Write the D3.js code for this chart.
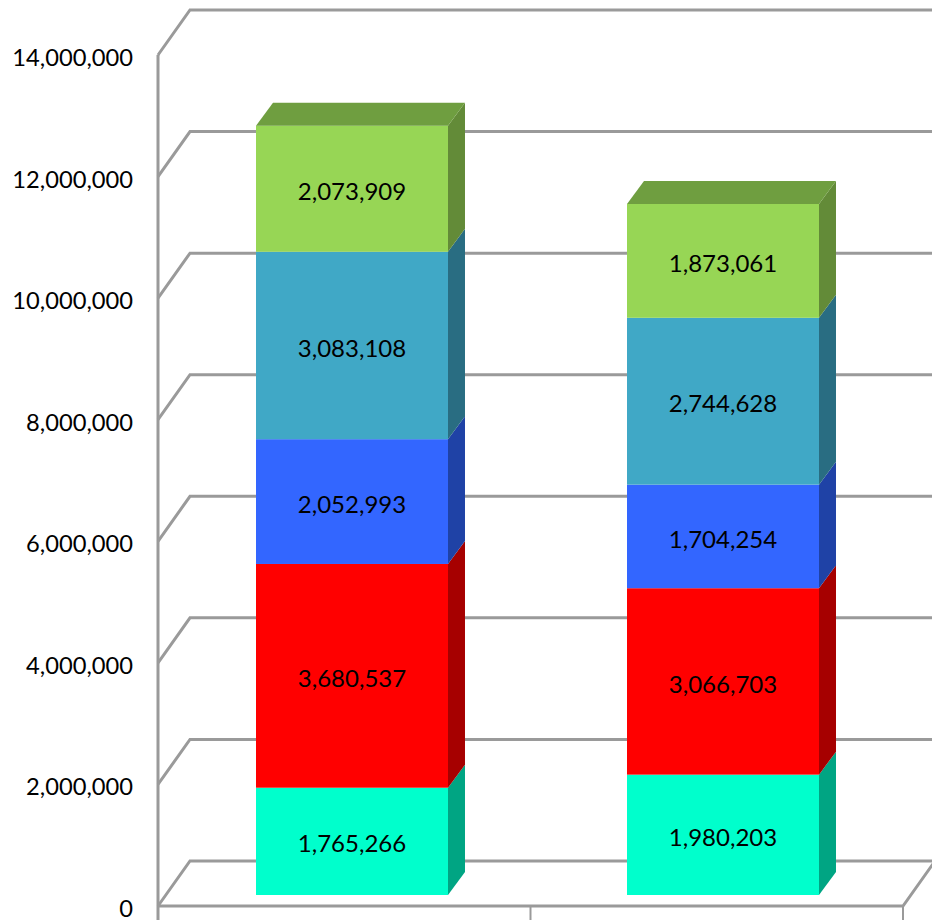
<!DOCTYPE html>
<html><head><meta http-equiv="Content-Type" content="text/html; charset=utf-8">
    <script src="https://d3js.org/d3.v7.min.js"></script>
    <style>
        html, body { margin: 0; padding: 0; background: #fff; }
        svg { display: block; }
        text { font-family: Lato, "Open Sans", sans-serif; fill: #000; }
    </style>
    </head>

    <body>

        <div id="chart"></div>

        <script type="text/javascript">

            // ------------------ DATA -----------------------------------

            var categories = ["Column 1", "Column 2"];
            var tickValues = [0, 2000000, 4000000, 6000000, 8000000, 10000000, 12000000, 14000000];

            var series1 = [1765266, 1980203];
            var series2 = [3680537, 3066703];
            var series3 = [2052993, 1704254];
            var series4 = [3083108, 2744628];
            var series5 = [2073909, 1873061];

            var frontColors = ["#00ffcc", "#ff0000", "#3366ff", "#40a8c6", "#97d655"];
            var sideColors = ["#00a583", "#a60000", "#1f42a6", "#296d82", "#638b38"];
            var topColor = "#6f9e40";

            // ------------------ SETUP ----------------------------------

            var width = 932;
            var height = 920;

            var wallX = 32, wallY = -45;     // how far the back wall sits from the front edge
            var depthX = 17, depthY = -23;   // bar depth
            var baseY = -11;                 // bars stand a bit behind the front edge

            var svg = d3.select("#chart")
                .append("svg")
                .attr("width", width)
                .attr("height", height);

            var x = d3.scaleBand()
                .domain(categories)
                .range([166.5, 908.5])
                .paddingInner(0.4825)
                .paddingOuter(0.24125);

            var xEdge = d3.scalePoint()
                .domain(d3.range(categories.length + 1))
                .range([158, 903]);

            var y = d3.scaleLinear()
                .domain([0, 14000000])
                .range([906, 55]);

            var fmt = d3.format(",");
            var gridColor = "#9a9a9a";

            // ------------------ WALLS ----------------------------------

            var grid = svg.append("g")
                .attr("fill", "none")
                .attr("stroke", gridColor)
                .attr("stroke-width", 3);

            grid.selectAll("path.row")
                .data(tickValues)
                .enter()
                .append("path")
                .attr("class", "row")
                .attr("d", function (d) {
                    return d3.line()([
                        [xEdge(0), y(d)],
                        [xEdge(0) + wallX, y(d) + wallY],
                        [width, y(d) + wallY]
                    ]);
                });

            grid.append("path")
                .attr("d", d3.line()([[xEdge(0), y(14000000)], [xEdge(0), height]]));

            grid.append("path")
                .attr("d", d3.line()([[xEdge(0), y(0)], [xEdge(2), y(0)], [xEdge(2) + wallX, y(0) + wallY]]));

            grid.selectAll("path.tick")
                .data(d3.range(categories.length + 1))
                .enter()
                .append("path")
                .attr("class", "tick")
                .attr("stroke-width", 2)
                .attr("d", function (d) {
                    return d3.line()([[xEdge(d), y(0)], [xEdge(d), height]]);
                });

            svg.append("g")
                .selectAll("text")
                .data(tickValues)
                .enter()
                .append("text")
                .attr("x", 133)
                .attr("y", function (d) { return y(d) + 5; })
                .attr("text-anchor", "end")
                .attr("dominant-baseline", "middle")
                .style("font-size", "23.7px")
                .text(function (d) { return fmt(d); });

            // ------------------ BARS -----------------------------------

            var allSeries = [series1, series2, series3, series4, series5];

            var rows = categories.map(function (c, i) {
                var row = { category: c };
                allSeries.forEach(function (s, j) { row["s" + j] = s[i]; });
                return row;
            });

            var stack = d3.stack().keys(allSeries.map(function (s, j) { return "s" + j; }));
            var layers = stack(rows);

            var poly = d3.line();

            layers.forEach(function (layer, j) {

                var g = svg.append("g");

                g.selectAll("path.side")
                    .data(layer)
                    .enter()
                    .append("path")
                    .attr("class", "side")
                    .attr("fill", sideColors[j])
                    .attr("d", function (d) {
                        var r = x(d.data.category) + x.bandwidth();
                        var y0 = y(d[0]) + baseY, y1 = y(d[1]) + baseY;
                        return poly([[r, y0], [r + depthX, y0 + depthY], [r + depthX, y1 + depthY], [r, y1]]) + "Z";
                    });

                g.selectAll("rect")
                    .data(layer)
                    .enter()
                    .append("rect")
                    .attr("x", function (d) { return x(d.data.category); })
                    .attr("y", function (d) { return y(d[1]) + baseY; })
                    .attr("width", x.bandwidth())
                    .attr("height", function (d) { return y(d[0]) - y(d[1]); })
                    .attr("fill", frontColors[j]);

                // only the last series shows its top
                if (j == layers.length - 1) {
                    g.selectAll("path.top")
                        .data(layer)
                        .enter()
                        .append("path")
                        .attr("class", "top")
                        .attr("fill", topColor)
                        .attr("d", function (d) {
                            var l = x(d.data.category), r = l + x.bandwidth();
                            var t = y(d[1]) + baseY;
                            return poly([[l, t], [l + depthX, t + depthY], [r + depthX, t + depthY], [r, t]]) + "Z";
                        });
                }

                g.selectAll("text")
                    .data(layer)
                    .enter()
                    .append("text")
                    .attr("x", function (d) { return x(d.data.category) + x.bandwidth() / 2; })
                    .attr("y", function (d) { return (y(d[0]) + y(d[1])) / 2 + baseY + 5; })
                    .attr("text-anchor", "middle")
                    .attr("dominant-baseline", "middle")
                    .style("font-size", "24px")
                    .text(function (d) { return fmt(d[1] - d[0]); });
            });

        </script>

    </body></html>
